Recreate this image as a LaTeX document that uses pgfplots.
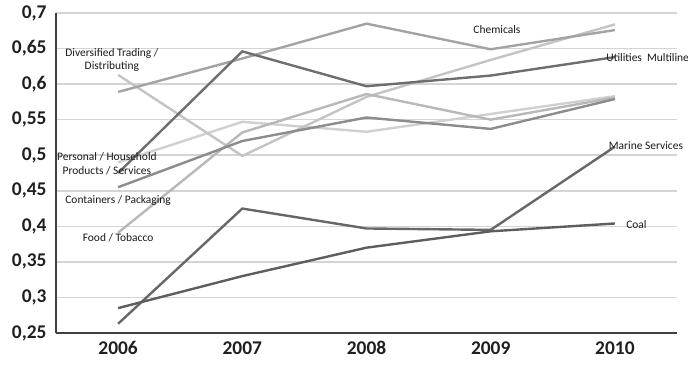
\documentclass[border=0pt]{standalone}
\usepackage{fontspec}
\setmainfont{Carlito}
\usepackage{pgfplots}
\pgfplotsset{compat=1.18}
\definecolor{cUtil}{HTML}{6E6E6E}
\definecolor{cMarine}{HTML}{676767}
\definecolor{cCoal}{HTML}{5E5E5E}
\definecolor{cCont}{HTML}{8C8C8C}
\definecolor{cChem}{HTML}{A3A3A3}
\definecolor{cFood}{HTML}{B8B8B8}
\definecolor{cDiv}{HTML}{C4C4C4}
\definecolor{cPers}{HTML}{D0D0D0}
\begin{document}
\begin{tikzpicture}
\useasboundingbox (0,0) rectangle (688bp,367bp);
\begin{axis}[
  at={(56bp,34bp)}, anchor=south west,
  scale only axis, width=621bp, height=320bp,
  xmin=-0.5, xmax=4.5, ymin=0.25, ymax=0.7,
  axis x line=bottom, axis y line=left,
  axis line style={draw=black!75, line width=1.5bp, -},
  xtick={0,1,2,3,4}, xticklabels={2006,2007,2008,2009,2010},
  ytick={0.25,0.3,0.35,0.4,0.45,0.5,0.55,0.6,0.65,0.7},
  yticklabels={{0,25},{0,3},{0,35},{0,4},{0,45},{0,5},{0,55},{0,6},{0,65},{0,7}},
  tick label style={font=\fontsize{19.5}{20}\selectfont\bfseries, text=black!88},
  major tick length=0pt,
  yticklabel style={xshift=-6bp},
  xticklabel style={yshift=-5bp},
  ymajorgrids, grid style={draw=black!17, line width=1.5bp},
  clip=false,
  every axis plot/.append style={line width=2.4bp, no marks},
]
\addplot[cPers] coordinates {(0,0.490) (1,0.547) (2,0.533) (3,0.558) (4,0.583)};
\addplot[cDiv] coordinates {(0,0.613) (1,0.499) (2,0.582) (3,0.634) (4,0.684)};
\addplot[cFood] coordinates {(0,0.391) (1,0.532) (2,0.586) (3,0.550) (4,0.581)};
\addplot[cChem] coordinates {(0,0.589) (1,0.636) (2,0.685) (3,0.649) (4,0.676)};
\addplot[cCont] coordinates {(0,0.455) (1,0.520) (2,0.553) (3,0.537) (4,0.579)};
\addplot[cUtil] coordinates {(0,0.475) (1,0.646) (2,0.597) (3,0.612) (4,0.638)};
\addplot[cMarine] coordinates {(0,0.263) (1,0.425) (2,0.397) (3,0.395) (4,0.512)};
\addplot[cCoal] coordinates {(0,0.285) (1,0.330) (2,0.370) (3,0.393) (4,0.404)};
\begin{scope}[every node/.style={font=\fontsize{11.5}{13.5}\selectfont, text=black!90, inner sep=0pt}]
\node[align=center] at (axis cs:-0.05,0.634) {Diversified Trading /\\Distributing};
\node at (axis cs:3.05,0.676) {Chemicals};
\node[anchor=west] at (axis cs:3.93,0.638) {Utilities\ \ Multiline};
\node[anchor=west] at (axis cs:3.95,0.513) {Marine Services};
\node[anchor=west] at (axis cs:4.09,0.402) {Coal};
\node[align=center] at (axis cs:-0.09,0.488) {Personal / Household\\Products / Services};
\node at (axis cs:0,0.436) {Containers / Packaging};
\node at (axis cs:0,0.384) {Food / Tobacco};
\end{scope}
\end{axis}
\end{tikzpicture}
\end{document}
